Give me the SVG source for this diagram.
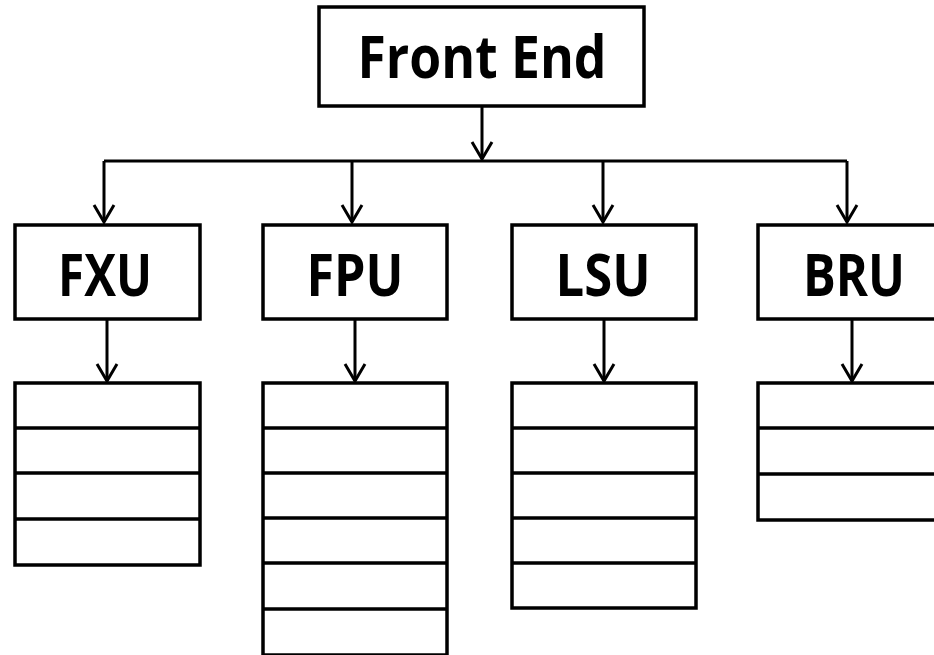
<svg xmlns="http://www.w3.org/2000/svg" width="934" height="655" viewBox="0 0 934 655">
  <style>
    .box { fill: #ffffff; stroke: #000000; stroke-width: 3.5; }
    .row { fill: none; stroke: #000000; stroke-width: 3.5; }
    .label { font-family: "Open Sans", "Lato", "Liberation Sans", sans-serif; font-weight: bold; font-size: 59px; fill: #000000; text-anchor: middle; }
    .wire { fill: none; stroke: #000000; stroke-width: 3; }
  </style>
  <defs>
    <marker id="vhead" markerUnits="userSpaceOnUse" markerWidth="30" markerHeight="30" viewBox="-20 -15 30 30" refX="0" refY="0" orient="auto" overflow="visible">
      <path d="M-17,-10 L0,0 L-17,10" fill="none" stroke="#000000" stroke-width="3" stroke-linejoin="miter"/>
    </marker>
  </defs>
  <rect width="934" height="655" fill="#ffffff"/>

  <!-- connectors -->
  <g id="connectors">
    <path class="wire" d="M482,106 V159" marker-end="url(#vhead)"/>
    <path class="wire" d="M104,161 H847"/>
    <path class="wire" d="M104,161 V222" marker-end="url(#vhead)"/>
    <path class="wire" d="M352,161 V222" marker-end="url(#vhead)"/>
    <path class="wire" d="M603,161 V222" marker-end="url(#vhead)"/>
    <path class="wire" d="M847,161 V222" marker-end="url(#vhead)"/>
    <path class="wire" d="M107,319 V381" marker-end="url(#vhead)"/>
    <path class="wire" d="M355,319 V381" marker-end="url(#vhead)"/>
    <path class="wire" d="M604,319 V381" marker-end="url(#vhead)"/>
    <path class="wire" d="M852,319 V381" marker-end="url(#vhead)"/>
  </g>

  <!-- front end -->
  <g id="front-end">
    <rect class="box" x="319" y="7" width="325" height="99"/>
    <text class="label" x="482" y="78" textLength="249" lengthAdjust="spacingAndGlyphs">Front End</text>
  </g>

  <!-- execution units -->
  <g id="fxu">
    <rect class="box" x="15" y="225" width="185" height="94"/>
    <text class="label" x="105" y="296" textLength="94" lengthAdjust="spacingAndGlyphs">FXU</text>
  </g>
  <g id="fpu">
    <rect class="box" x="263" y="225" width="184" height="94"/>
    <text class="label" x="355" y="296" textLength="97" lengthAdjust="spacingAndGlyphs">FPU</text>
  </g>
  <g id="lsu">
    <rect class="box" x="512" y="225" width="184" height="94"/>
    <text class="label" x="603" y="296" textLength="95" lengthAdjust="spacingAndGlyphs">LSU</text>
  </g>
  <g id="bru">
    <rect class="box" x="758" y="225" width="184" height="94"/>
    <text class="label" x="854" y="296" textLength="102" lengthAdjust="spacingAndGlyphs">BRU</text>
  </g>

  <!-- issue queues -->
  <g id="fxu-queue">
    <rect class="box" x="15" y="383" width="185" height="182"/>
    <path class="row" d="M15,428 H200 M15,473 H200 M15,519 H200"/>
  </g>
  <g id="fpu-queue">
    <rect class="box" x="263" y="383" width="184" height="272"/>
    <path class="row" d="M263,428 H447 M263,473 H447 M263,518 H447 M263,563 H447 M263,609 H447"/>
  </g>
  <g id="lsu-queue">
    <rect class="box" x="512" y="383" width="184" height="225"/>
    <path class="row" d="M512,428 H696 M512,473 H696 M512,518 H696 M512,563 H696"/>
  </g>
  <g id="bru-queue">
    <rect class="box" x="758" y="383" width="184" height="137"/>
    <path class="row" d="M758,428 H942 M758,474 H942"/>
  </g>
</svg>
